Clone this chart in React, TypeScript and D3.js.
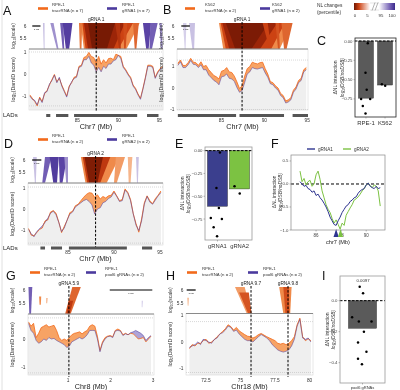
import * as d3 from 'd3';

const FONT = '"Liberation Sans", Arial, Helvetica, sans-serif';
const ORANGE = '#f26a1b';
const PURPLE = '#4b3a9e';
const NAVY = '#2f3590';
const GREEN = '#7cc242';
const HEAT_DOMAIN: [number, number] = [5.1, 6.11];

// ---- DamID tracks (log2 score per bin) ----
const aTracr = [-0.95, -1.1, -1.25, -1.45, -1.05, -1.25, -0.9, -0.75, -0.5, -0.25, -0.02, -0.35, -0.2, -0.5, -0.75, -1.0, -0.55, -0.4, -0.15, -0.1, 0.35, 0.4, 0.75, 0.8, 0.98, 0.8, 0.75, 0.5, 0.8, 0.45, 0.65, 0.5, 0.7, 0.72, 0.65, 0.9, 0.85, 0.8, 0.35, 0.2, 0.0, -0.15, -0.5, -0.65, -0.9, -1.1, -0.65, -0.15, 0.4, 0.4, 0.35, -0.15, 0.1, 0.25, 0.35];
const aGrna = [-1.0, -1.15, -1.2, -1.4, -1.1, -1.3, -0.85, -0.8, -0.45, -0.3, -0.05, -0.4, -0.15, -0.55, -0.8, -1.05, -0.6, -0.35, -0.2, -0.15, 0.3, 0.35, 0.65, 0.65, 0.8, 0.5, 0.4, 0.1, 0.3, 0.1, 0.35, 0.25, 0.45, 0.45, 0.6, 0.65, 0.85, 0.7, 0.3, 0.15, -0.05, -0.2, -0.55, -0.7, -0.95, -1.15, -0.7, -0.2, 0.35, 0.35, 0.3, -0.2, 0.05, 0.2, 0.3];
const bTracr = [1.15, 1.3, 1.05, 1.05, 1.18, 1.38, 1.2, 1.18, 1.05, 1.22, 1.0, 1.05, 0.85, 0.72, 0.58, 0.52, 0.42, 0.78, 0.82, 0.95, 0.75, 0.72, 0.55, 0.28, -0.02, 0.1, 0.55, 0.9, 1.0, 1.2, 1.15, 1.12, 1.18, 1.2, 0.9, 0.65, 0.3, 0.25, 0.1, 0.0, -0.25, -0.35, -0.6, -0.55, -0.45, -0.1, 0.05, 0.35, 0.45, 0.85, 0.95];
const bGrna = [1.05, 1.22, 0.95, 0.95, 1.08, 1.28, 1.1, 1.08, 0.95, 1.08, 0.85, 0.85, 0.6, 0.48, 0.35, 0.28, 0.15, 0.52, 0.55, 0.65, 0.45, 0.42, 0.3, 0.02, -0.2, -0.12, 0.25, 0.65, 0.75, 0.95, 0.9, 0.88, 0.92, 0.95, 0.7, 0.5, 0.2, 0.15, 0.0, -0.1, -0.35, -0.45, -0.7, -0.65, -0.55, -0.2, -0.05, 0.25, 0.35, 0.75, 0.85];
const dTracr = [-0.9, -1.22, -1.25, -1.1, -0.95, -0.88, -0.55, -0.5, -0.12, -0.05, -0.18, -0.6, -1.1, -0.8, -0.52, -0.15, -0.08, 0.18, 0.25, 0.42, 0.58, 0.72, 0.8, 0.78, 0.58, 0.7, 0.5, 0.62, 0.55, 0.65, 0.68, 0.88, 0.65, 0.42, 0.48, 0.98, 0.82, 0.48, -0.2, -0.68, -1.08, -0.45, 0.32, 0.65, 0.42, 0.28, 0.52, 0.68, 0.88];
const dGrna = [-0.95, -1.15, -1.3, -1.05, -0.92, -0.78, -0.62, -0.42, -0.18, -0.08, -0.25, -0.62, -1.05, -0.88, -0.5, -0.22, -0.12, 0.12, 0.22, 0.32, 0.42, 0.48, 0.38, 0.22, -0.22, 0.02, 0.08, 0.32, 0.38, 0.52, 0.6, 0.82, 0.62, 0.38, 0.42, 0.92, 0.78, 0.42, -0.22, -0.75, -1.0, -0.55, 0.25, 0.62, 0.35, 0.25, 0.45, 0.65, 0.8];
const gTracr = [0.6, 0.45, 0.55, 0.05, 0.2, 0.4, 0.45, 0.5, 0.42, 0.45, 0.48, 0.3, 0.05, -0.05, 0.0, -0.05, 0.05, 0.15, 0.2, 0.22, 0.25, 0.18, 0.25, 0.3, 0.45, 0.5, 0.45, 0.1, -0.4, -0.1, 0.05, 0.1, 0.12, 0.08, 0.3, 0.35, 0.3, 0.15, 0.2, 0.15, 0.2, 0.18, 0.1, 0.0, 0.02, 0.05, -0.1, 0.0, 0.1];
const gGrna = [0.55, 0.3, 0.2, -0.05, -0.15, -0.1, 0.0, -0.05, 0.05, 0.0, 0.02, -0.05, -0.1, -0.15, -0.2, -0.3, -0.25, -0.1, -0.05, 0.0, 0.05, 0.0, 0.05, 0.15, 0.3, 0.3, 0.3, 0.0, -0.45, -0.15, 0.0, 0.08, 0.1, 0.05, 0.28, 0.3, 0.28, 0.12, 0.18, 0.15, 0.22, 0.25, 0.3, 0.25, 0.2, 0.12, -0.05, 0.05, 0.12];
const hTracr = [-0.25, -0.1, -0.15, -0.05, -0.05, 0.05, 0.1, -0.05, 0.0, 0.08, 0.2, 0.3, 0.4, 0.5, 0.65, 0.58, 0.45, 0.55, 0.42, 0.35, 0.28, 0.22, 0.2, 0.15, 0.2, 0.28, 0.32, 0.26, 0.2, 0.15, 0.1, 0.05, -0.05, -0.08, -0.05, -0.1, -0.05, 0.05, 0.2, 0.65, 0.9, 0.2, 0.05, 0.12, 0.05];
const hGrna = [-0.2, -0.15, -0.1, 0.0, -0.1, 0.1, 0.05, 0.0, -0.05, 0.1, 0.15, 0.3, 0.35, 0.45, 0.6, 0.55, 0.4, 0.45, 0.3, 0.2, 0.1, 0.05, 0.05, 0.0, 0.1, 0.2, 0.28, 0.22, 0.15, 0.05, -0.1, -0.2, -0.3, -0.35, -0.38, -0.35, -0.3, -0.15, 0.1, 0.6, 0.85, 0.15, 0.1, 0.15, 0.0];

// ---- domainogram streaks: [x0 top, x1 top, x0 bottom, x1 bottom, percentile, scale top?, scale bottom?] ----
const aStreaks = [
  [80.8, 81.0, 80.9, 81.0, 96.5], [81.7, 82.1, 82.5, 82.7, 97.5], [82.9, 83.3, 83.2, 83.4, 98.5], [83.2, 84.4, 83.6, 84.0, 99.2],
  [93.0, 94.0, 93.4, 93.7, 99], [93.9, 94.8, 93.8, 94.1, 98.5], [95.0, 95.3, 95.2, 95.4, 97.5],
  [85.4, 92.6, 85.8, 91.0, 3.5], [85.6, 91.8, 86.0, 90.0, 1.5], [85.8, 90.8, 86.3, 89.4, 0.5], [86.3, 89.6, 86.8, 88.6, 0.1],
  [91.8, 92.5, 92.0, 92.2, 2.5], [85.2, 85.6, 85.3, 85.5, 3], [89.6, 90.2, 90.1, 90.3, 1.0], [90.6, 91.1, 90.7, 90.9, 1.8],
];
const bStreaks = [
  [80.5, 80.9, 80.7, 80.8, 96], [81.2, 81.9, 81.6, 81.8, 96.5],
  [84.7, 93.2, 85.2, 91.8, 3.5], [84.9, 92.4, 85.5, 90.8, 1.5], [85.1, 91.5, 85.9, 89.5, 0.5], [85.5, 90.5, 86.6, 88.5, 0.15],
  [92.0, 93.3, 92.3, 92.6, 2.5], [89.8, 90.4, 90.6, 90.8, 1.5], [91.3, 91.7, 91.6, 91.8, 2],
];
const dStreaks = [
  [81.2, 81.6, 81.4, 81.5, 96.5], [82.5, 83.2, 82.2, 82.5, 98.5], [83.0, 84.0, 83.4, 83.8, 99.3], [84.0, 84.9, 84.1, 84.4, 99],
  [84.6, 85.0, 84.8, 85.0, 97.5], [92.4, 92.7, 92.5, 92.6, 96.5],
  [86.4, 90.6, 86.9, 89.2, 3.5], [86.6, 89.6, 87.1, 88.5, 1.2], [86.8, 88.8, 87.3, 88.2, 0.2],
  [90.2, 91.2, 90.0, 90.3, 3.8], [91.5, 92.0, 91.6, 91.8, 4.2],
];
const gStreaks = [
  [0.07, 0.16, 0.09, 0.13, 98.5], [2.73, 2.76, 2.73, 2.75, 96, 5.6, 5.35],
  [1.1, 1.3, 0.93, 1.06, 2.5], [1.02, 1.12, 0.96, 1.04, 1.2, 5.6, 5.1],
  [0.32, 0.37, 0.33, 0.36, 3.5, 5.75, 5.45], [0.49, 0.52, 0.49, 0.51, 4, 5.7, 5.5],
];
const hStreaks = [
  [71.15, 71.25, 71.18, 71.22, 4, 5.7, 5.4],
  [74.6, 75.3, 75.45, 75.8, 3.8], [74.9, 75.6, 75.55, 75.8, 2.0, 5.9, 5.1],
  [77.8, 78.7, 78.1, 78.6, 3.5], [78.1, 78.5, 78.25, 78.55, 1.8],
];

// ---- LADs (Mb) ----
const aLads = [[81.2, 81.7], [82.4, 83.9], [84.6, 92.3], [93.5, 94.9]];
const bLads = [[79.9, 86.7], [87.1, 92.3], [93.3, 95.1]];
const dLads = [[82.0, 82.5], [83.15, 84.35], [85.1, 91.4], [93.05, 94.15]];

const chr7Ticks = [85, 90, 95];
const chr8Ticks = [1, 2, 3];
const chr18Ticks = [72.5, 75, 77.5, 80];

// ---- bar panels ----
const cCats = ['RPE-1', 'K562'];
const cBars = [-0.74, -0.57];
const cPoints = [[-0.03, -0.41, -0.63, -0.75, -0.75, -0.84, -0.94], [-0.56, -0.58]];
const cJitter = [[0.12, -0.03, 0.05, -0.32, 0.28, -0.21, -0.03], [-0.21, 0.01]];
const eCats = ['gRNA1', 'gRNA2'];
const eBars = [-0.61, -0.42];
const ePoints = [[-0.02, -0.41, -0.63, -0.74, -0.75, -0.84, -0.94], [-0.39, -0.47]];
const eJitter = [[0.12, -0.05, 0.07, -0.33, 0.22, -0.19, -0.02], [-0.25, 0.01]];
const iCats = ['pool6 gRNAs'];
const iBars = [-0.178];
const iPoints = [[0.09, 0.048, -0.107, -0.135, -0.135, -0.2, -0.27, -0.33, -0.375, -0.41]];
const iJitter = [[-0.1, 0.02, -0.37, -0.13, 0.32, 0.05, -0.16, 0.14, -0.16, -0.02]];

// ---- panel F ----
const fStart = 84.72;
const fStep = 0.16;
const fGrna1 = [0.05, 0.0, -0.05, -0.03, -0.1, -0.12, -0.18, -0.15, -0.25, -0.22, -0.3, -0.35, -0.42, -0.5, -0.6, -0.72, -0.8, -0.88, -0.9, -0.8, -0.72, -0.62, -0.55, -0.48, -0.45, -0.38, -0.35, -0.3, -0.28, -0.2, -0.15, -0.12, -0.1, -0.02, 0.02, -0.05, -0.08, -0.1, -0.05, -0.1, -0.08];
const fGrna2 = [0.28, 0.05, 0.12, -0.02, 0.05, 0.08, -0.05, 0.0, 0.2, 0.28, 0.1, -0.15, -0.3, -0.45, -0.55, -0.62, -0.75, -0.85, -0.78, -0.88, -0.98, -0.85, -0.9, -0.68, -0.6, -0.52, -0.45, -0.35, -0.32, -0.28, -0.22, -0.15, -0.1, -0.02, 0.02, -0.03, -0.08, -0.02, -0.05, -0.15, -0.48];
const fSites = [87.6, 87.95];

const orangeScale = d3.scaleLinear<string>().domain([0, 0.5, 1.5, 3.5, 5]).range(['#6e1703', '#9c2508', '#cc4213', '#ef8a4a', '#fde6d6']).clamp(true);
const purpleScale = d3.scaleLinear<string>().domain([95, 96.5, 98, 99, 100]).range(['#f1eff8', '#c9c1e3', '#8a79c2', '#5a43a5', '#3b2a8a']).clamp(true);
const heatColor = (p: number) => (p <= 5 ? orangeScale(p) : purpleScale(p));

interface Pt { p: number; t: number; g: number }

interface GenomeProps {
  id: string; left: number; right: number; domain: [number, number];
  heatTop: number; split: number; bottom: number; lineDomain: [number, number]; dotted: number[];
  start: number; step: number; tracr: number[]; grna: number[]; streaks: number[][];
  guides: [number, string][]; lads?: number[][]; ladY?: number; ladLabel?: boolean;
  xTicks: number[]; yTicks: number[]; tickY: number; title: string; titleY: number; bar: [number, number];
}

function Genome(c: GenomeProps) {
  const x = d3.scaleLinear().domain(c.domain).range([c.left, c.right]);
  const hy = d3.scaleLinear().domain(HEAT_DOMAIN).range([c.split, c.heatTop]);
  const y = d3.scaleLinear().domain(c.lineDomain).range([c.bottom, c.split]);
  const pts: Pt[] = c.tracr.map((t, i) => ({ p: c.start + i * c.step, t, g: c.grna[i] }));
  const gray = d3.area<Pt>().x(d => x(d.p)).y0(c.bottom).y1(d => y(Math.min(d.t, d.g)));
  const fillO = d3.area<Pt>().x(d => x(d.p)).y0(d => y(d.g)).y1(d => y(Math.max(d.t, d.g)));
  const fillP = d3.area<Pt>().x(d => x(d.p)).y0(d => y(d.t)).y1(d => y(Math.max(d.t, d.g)));
  const lineT = d3.line<Pt>().x(d => x(d.p)).y(d => y(d.t));
  const lineG = d3.line<Pt>().x(d => x(d.p)).y(d => y(d.g));
  const poly = d3.line();
  const w = c.right - c.left;
  const midH = (c.heatTop + c.split) / 2;
  const midL = (c.split + c.bottom) / 2;
  const tx = c.left - 14;
  return (
    <g>
      <defs>
        <clipPath id={`${c.id}h`}><rect x={c.left} y={c.heatTop} width={w} height={c.split - c.heatTop} /></clipPath>
        <clipPath id={`${c.id}l`}><rect x={c.left} y={c.split} width={w} height={c.bottom - c.split} /></clipPath>
      </defs>
      <g clipPath={`url(#${c.id}h)`}>
        {c.streaks.map((s, i) => {
          const yt = hy(s[5] ?? HEAT_DOMAIN[1]);
          const yb = hy(s[6] ?? HEAT_DOMAIN[0]);
          const d = poly([[x(s[0]), yt], [x(s[1]), yt], [x(s[3]), yb], [x(s[2]), yb]]) + 'Z';
          return <path key={i} d={d} fill={heatColor(s[4])} />;
        })}
      </g>
      <g clipPath={`url(#${c.id}l)`}>
        <path d={gray(pts) ?? ''} fill="#efefef" />
        <path d={fillO(pts) ?? ''} fill="#f7a365" />
        <path d={fillP(pts) ?? ''} fill="#ada3d8" />
        {c.dotted.map(v => (
          <line key={v} x1={c.left} x2={c.right} y1={y(v)} y2={y(v)} stroke="#bdbdbd" strokeWidth={0.6} strokeDasharray="1,1" />
        ))}
        <path d={lineT(pts) ?? ''} fill="none" stroke={ORANGE} strokeWidth={0.8} />
        <path d={lineG(pts) ?? ''} fill="none" stroke={PURPLE} strokeWidth={0.7} strokeOpacity={0.75} />
      </g>
      <rect x={c.left} y={c.split} width={w} height={c.bottom - c.split} fill="none" stroke="#d0d0d0" strokeWidth={0.5} />
      <line x1={c.left} x2={c.right} y1={c.split} y2={c.split} stroke="#7f7f7f" strokeWidth={0.9} />
      {[6, 5.5].map(v => (
        <text key={v} x={c.left - 2.5} y={hy(v) + 1.7} fontSize={4.8} textAnchor="end" fill="#333">{v}</text>
      ))}
      {c.yTicks.map(v => (
        <text key={v} x={c.left - 2.5} y={y(v) + 1.7} fontSize={4.8} textAnchor="end" fill="#333">{v}</text>
      ))}
      <text transform={`translate(${tx},${midH}) rotate(-90)`} fontSize={5} textAnchor="middle" fill="#333">
        log<tspan fontSize={3.6} dy={1.2}>10</tspan><tspan dy={-1.2}>(scale)</tspan>
      </text>
      <text transform={`translate(${tx},${midL}) rotate(-90)`} fontSize={5.4} textAnchor="middle" fill="#333">
        log<tspan fontSize={3.8} dy={1.2}>2</tspan><tspan dy={-1.2}>(DamID score)</tspan>
      </text>
      <line x1={x(c.bar[0])} x2={x(c.bar[0] + c.bar[1])} y1={c.heatTop + 3} y2={c.heatTop + 3} stroke="#000" strokeWidth={1.2} />
      <text x={x(c.bar[0] + c.bar[1] / 2)} y={c.heatTop + 7} fontSize={2.4} textAnchor="middle">1 Mb</text>
      {c.guides.map(([pos, label]) => (
        <g key={label}>
          <line x1={x(pos)} x2={x(pos)} y1={c.heatTop - 1} y2={c.bottom + 2} stroke="#000" strokeWidth={1} strokeDasharray="2.5,1.6" />
          <text x={x(pos)} y={c.heatTop - 1.8} fontSize={4.8} textAnchor="middle" fill="#222">{label}</text>
        </g>
      ))}
      {c.lads?.map((l, i) => (
        <rect key={i} x={x(l[0])} y={c.ladY} width={x(l[1]) - x(l[0])} height={3} fill="#555" />
      ))}
      {c.ladLabel && <text x={3} y={(c.ladY ?? 0) + 3} fontSize={6} fill="#222">LADs</text>}
      {c.xTicks.map(v => (
        <text key={v} x={x(v)} y={c.tickY} fontSize={4.8} textAnchor="middle" fill="#333">{v}</text>
      ))}
      <text x={(c.left + c.right) / 2} y={c.titleY} fontSize={7.2} textAnchor="middle" fill="#1a1a1a">{c.title}</text>
    </g>
  );
}

interface LegendItem { sx: number; tx: number; color: string; l1: string; l2: string }
function Legend({ y, items }: { y: number; items: LegendItem[] }) {
  return (
    <g>
      {items.map(it => (
        <g key={it.l2}>
          <line x1={it.sx} x2={it.sx + 10} y1={y + 2.5} y2={y + 2.5} stroke={it.color} strokeWidth={2.6} />
          <text x={it.tx} y={y} fontSize={4.3} fill="#333">{it.l1}</text>
          <text x={it.tx} y={y + 6} fontSize={4.3} fill="#333">{it.l2}</text>
        </g>
      ))}
    </g>
  );
}

interface BarProps {
  left: number; right: number; top: number; bottom: number; domain: [number, number];
  ticks: number[]; fmt: string; cats: string[]; values: number[]; colors: string[];
  points: number[][]; jitter: number[][]; pin: number; pout: number; frame: string;
  ylab: [number, number]; catSize: number; catY: number;
}
function BarPanel(b: BarProps) {
  const x = d3.scaleBand().domain(b.cats).range([b.left, b.right]).paddingInner(b.pin).paddingOuter(b.pout);
  const y = d3.scaleLinear().domain(b.domain).range([b.bottom, b.top]);
  const f = d3.format(b.fmt);
  const bw = x.bandwidth();
  const mid = (b.top + b.bottom) / 2;
  return (
    <g>
      {b.cats.map((c, i) => (
        <rect key={c} x={x(c)} y={y(0)} width={bw} height={y(b.values[i]) - y(0)} fill={b.colors[i]} stroke="#222" strokeWidth={0.4} />
      ))}
      <line x1={b.left} x2={b.right} y1={y(0)} y2={y(0)} stroke="#000" strokeWidth={1} strokeDasharray="2.5,1.5" />
      {b.cats.map((c, i) =>
        b.points[i].map((v, j) => (
          <circle key={`${c}${j}`} cx={(x(c) ?? 0) + bw / 2 + b.jitter[i][j] * bw} cy={y(v)} r={1.25} fill="#000" />
        ))
      )}
      <rect x={b.left} y={b.top} width={b.right - b.left} height={b.bottom - b.top} fill="none" stroke={b.frame} strokeWidth={0.8} />
      {b.ticks.map(v => (
        <g key={v}>
          <line x1={b.left - 1.5} x2={b.left} y1={y(v)} y2={y(v)} stroke="#555" strokeWidth={0.4} />
          <text x={b.left - 2.5} y={y(v) + 1.5} fontSize={4.3} textAnchor="end" fill="#444">{f(v)}</text>
        </g>
      ))}
      {b.cats.map(c => (
        <g key={c}>
          <line x1={(x(c) ?? 0) + bw / 2} x2={(x(c) ?? 0) + bw / 2} y1={b.bottom} y2={b.bottom + 1.5} stroke="#555" strokeWidth={0.4} />
          <text x={(x(c) ?? 0) + bw / 2} y={b.catY} fontSize={b.catSize} textAnchor="middle" fill="#333">{c}</text>
        </g>
      ))}
      <text transform={`translate(${b.ylab[0]},${mid}) rotate(-90)`} fontSize={5} textAnchor="middle" fill="#333">ΔNL interaction</text>
      <text transform={`translate(${b.ylab[1]},${mid}) rotate(-90)`} fontSize={5} textAnchor="middle" fill="#333" fontStyle="italic">
        log<tspan fontSize={3.6} dy={1.1}>2</tspan><tspan dy={-1.1}>(DSB/noDSB)</tspan>
      </text>
    </g>
  );
}

function PanelF() {
  const x = d3.scaleLinear().domain([84, 91.5]).range([291, 385]);
  const y = d3.scaleLinear().domain([-1.0, 0.63]).range([230, 155]);
  const line = d3.line<number>().x((_, i) => x(fStart + i * fStep)).y(d => y(d));
  const cols = [NAVY, GREEN];
  return (
    <g>
      <defs><clipPath id="fclip"><rect x={291} y={155} width={94} height={75} /></clipPath></defs>
      <g clipPath="url(#fclip)">
        <line x1={291} x2={385} y1={y(0)} y2={y(0)} stroke="#000" strokeWidth={1} strokeDasharray="3,2" />
        <path d={line(fGrna2) ?? ''} fill="none" stroke={GREEN} strokeWidth={1} />
        <path d={line(fGrna1) ?? ''} fill="none" stroke={NAVY} strokeWidth={1} />
      </g>
      <rect x={291} y={155} width={94} height={75} fill="none" stroke="#888" strokeWidth={0.7} />
      {[0.5, 0, -0.5, -1].map(v => (
        <g key={v}>
          <line x1={289.5} x2={291} y1={y(v)} y2={y(v)} stroke="#555" strokeWidth={0.4} />
          <text x={288.5} y={y(v) + 1.5} fontSize={4.3} textAnchor="end" fill="#444">{d3.format('.1f')(v)}</text>
        </g>
      ))}
      {[86, 88, 90].map(v => (
        <g key={v}>
          <line x1={x(v)} x2={x(v)} y1={230} y2={231.5} stroke="#555" strokeWidth={0.4} />
          <text x={x(v)} y={237} fontSize={4.5} textAnchor="middle" fill="#444">{v}</text>
        </g>
      ))}
      {fSites.map((s, i) => (
        <path key={s} d={`M${x(s) - 2.6},237 L${x(s) + 2.6},237 L${x(s)},229 Z`} fill={cols[i]} />
      ))}
      <text x={x(87.75)} y={244} fontSize={5.6} textAnchor="middle" fill="#222">chr7 (Mb)</text>
      <text transform="translate(276,192) rotate(-90)" fontSize={4.8} textAnchor="middle" fill="#333">ΔNL interaction</text>
      <text transform="translate(281.5,192) rotate(-90)" fontSize={4.8} textAnchor="middle" fill="#333" fontStyle="italic">
        log<tspan fontSize={3.5} dy={1.1}>2</tspan><tspan dy={-1.1}>(DSB/noDSB)</tspan>
      </text>
      <line x1={307} x2={315} y1={149} y2={149} stroke={NAVY} strokeWidth={1.4} />
      <text x={318} y={150.5} fontSize={4.6} fill="#333">gRNA1</text>
      <line x1={343} x2={351} y1={149} y2={149} stroke={GREEN} strokeWidth={1.4} />
      <text x={354} y={150.5} fontSize={4.6} fill="#333">gRNA2</text>
    </g>
  );
}

function ColorKey() {
  return (
    <g>
      <defs>
        <linearGradient id="gO"><stop offset="0" stopColor={heatColor(0)} /><stop offset="0.3" stopColor={heatColor(1.5)} /><stop offset="1" stopColor="#ffffff" /></linearGradient>
        <linearGradient id="gP"><stop offset="0" stopColor="#ffffff" /><stop offset="0.7" stopColor={heatColor(98.5)} /><stop offset="1" stopColor={heatColor(100)} /></linearGradient>
      </defs>
      <text x={317} y={7} fontSize={4.8} fill="#333">NL changes</text>
      <text x={317} y={13.5} fontSize={4.8} fill="#333">(percentile)</text>
      <rect x={354} y={3} width={16} height={7} fill="url(#gO)" />
      <rect x={379} y={3} width={16} height={7} fill="url(#gP)" />
      <line x1={370} x2={379} y1={3} y2={3} stroke="#bbb" strokeWidth={0.4} />
      <line x1={370} x2={379} y1={10} y2={10} stroke="#bbb" strokeWidth={0.4} />
      <line x1={372} x2={375} y1={10.5} y2={2.5} stroke="#666" strokeWidth={0.5} />
      <line x1={375} x2={378} y1={10.5} y2={2.5} stroke="#666" strokeWidth={0.5} />
      {[[355, '0'], [367.5, '5'], [381, '95'], [392, '100']].map(([px, t]) => (
        <text key={t as string} x={px as number} y={16.5} fontSize={4.3} textAnchor="middle" fill="#333">{t}</text>
      ))}
    </g>
  );
}

const letters: [string, number, number][] = [
  ['A', 3, 15], ['B', 163, 14], ['C', 317, 45], ['D', 4, 148], ['E', 175, 148],
  ['F', 271, 148], ['G', 6, 280], ['H', 166, 280], ['I', 322, 280],
];

export default function App() {
  return (
    <svg width={400} height={390} style={{ position: 'absolute', left: 0, top: 0, display: 'block', willChange: 'transform' }} fontFamily={FONT}>
      <rect width={400} height={390} fill="#fff" />
      <line x1={2} x2={2} y1={0} y2={390} stroke="#d8d8d8" strokeWidth={0.8} />
      {letters.map(([t, x, y]) => (
        <text key={t} x={x} y={y} fontSize={12.5} fill="#111">{t}</text>
      ))}
      <Legend y={6} items={[
        { sx: 38, tx: 52, color: ORANGE, l1: 'RPE-1', l2: 'tracrRNA (n = 7)' },
        { sx: 107, tx: 122, color: PURPLE, l1: 'RPE-1', l2: 'gRNA1 (n = 7)' },
      ]} />
      <Legend y={6} items={[
        { sx: 185, tx: 205, color: ORANGE, l1: 'K562', l2: 'tracrRNA (n = 2)' },
        { sx: 260, tx: 272, color: PURPLE, l1: 'K562', l2: 'gRNA1 (n = 2)' },
      ]} />
      <Legend y={137} items={[
        { sx: 38, tx: 52, color: ORANGE, l1: 'RPE-1', l2: 'tracrRNA (n = 2)' },
        { sx: 107, tx: 122, color: PURPLE, l1: 'RPE-1', l2: 'gRNA2 (n = 2)' },
      ]} />
      <Legend y={270} items={[
        { sx: 30, tx: 44, color: ORANGE, l1: 'RPE-1', l2: 'tracrRNA (n = 2)' },
        { sx: 86, tx: 105, color: PURPLE, l1: 'RPE-1', l2: 'pool6 gRNAs (n = 2)' },
      ]} />
      <Legend y={270} items={[
        { sx: 187, tx: 202, color: ORANGE, l1: 'RPE-1', l2: 'tracrRNA (n = 2)' },
        { sx: 248, tx: 263, color: PURPLE, l1: 'RPE-1', l2: 'pool6 gRNAs (n = 2)' },
      ]} />
      <ColorKey />
      <Genome id="a" left={29} right={163} domain={[79.1, 95.45]} heatTop={23} split={49} bottom={110}
        lineDomain={[-1.636, 1.136]} dotted={[1.0, -1.45]} start={79.2} step={0.3} tracr={aTracr} grna={aGrna}
        streaks={aStreaks} guides={[[87.3, 'gRNA 1']]} lads={aLads} ladY={114} ladLabel
        xTicks={chr7Ticks} yTicks={[1, 0, -1]} tickY={122} title="Chr7 (Mb)" titleY={129} bar={[79.5, 1]} />
      <Genome id="b" left={177} right={308} domain={[79.8, 95.1]} heatTop={23} split={49} bottom={110}
        lineDomain={[-1.023, 1.814]} dotted={[1.3, -1.0]} start={79.9} step={0.3} tracr={bTracr} grna={bGrna}
        streaks={bStreaks} guides={[[87.4, 'gRNA 1']]} lads={bLads} ladY={114}
        xTicks={chr7Ticks} yTicks={[1, 0, -1]} tickY={122} title="Chr7 (Mb)" titleY={129} bar={[80.3, 1]} />
      <Genome id="d" left={28} right={163} domain={[80.65, 95.33]} heatTop={157} split={183} bottom={245}
        lineDomain={[-1.69, 1.262]} dotted={[1.07, -1.6]} start={80.7} step={0.3} tracr={dTracr} grna={dGrna}
        streaks={dStreaks} guides={[[88.0, 'gRNA 2']]} lads={dLads} ladY={246.5} ladLabel
        xTicks={chr7Ticks} yTicks={[1, 0, -1]} tickY={254} title="Chr7 (Mb)" titleY={261} bar={[81.1, 1]} />
      <Genome id="g" left={28} right={154} domain={[0.059, 3.02]} heatTop={287} split={314} bottom={375}
        lineDomain={[-1.263, 0.877]} dotted={[0.74, -1.19]} start={0.07} step={0.06} tracr={gTracr} grna={gGrna}
        streaks={gStreaks} guides={[[1.02, 'gRNA 5.9']]}
        xTicks={chr8Ticks} yTicks={[0, -1]} tickY={382} title="Chr8 (Mb)" titleY={389} bar={[1.98, 1]} />
      <Genome id="h" left={186} right={313} domain={[71.05, 80.25]} heatTop={287} split={313.5} bottom={375}
        lineDomain={[-1.245, 1.075]} dotted={[0.77, -1.15]} start={71.3} step={0.2} tracr={hTracr} grna={hGrna}
        streaks={hStreaks} guides={[[75.76, 'gRNA 9.7'], [78.44, 'gRNA 9.8']]}
        xTicks={chr18Ticks} yTicks={[1, 0, -1]} tickY={382} title="Chr18 (Mb)" titleY={389} bar={[71.1, 0.65]} />
      <BarPanel left={355} right={396} top={38} bottom={117} domain={[-0.984, 0.039]} ticks={[0, -0.25, -0.5, -0.75]}
        fmt=".2f" cats={cCats} values={cBars} colors={['#5a5a5a', '#5a5a5a']} points={cPoints} jitter={cJitter}
        pin={0.21} pout={0.18} frame="#222" ylab={[337, 344]} catSize={6} catY={124.5} />
      <BarPanel left={205} right={252} top={147} bottom={240} domain={[-0.98, 0.04]} ticks={[0, -0.25, -0.5, -0.75]}
        fmt=".2f" cats={eCats} values={eBars} colors={['#3b3f8e', GREEN]} points={ePoints} jitter={eJitter}
        pin={0.09} pout={0.11} frame="#999" ylab={[184, 189.5]} catSize={5.8} catY={248} />
      <BarPanel left={340} right={385} top={276} bottom={383} domain={[-0.531, 0.159]} ticks={[0, -0.2, -0.4]}
        fmt=".1f" cats={iCats} values={iBars} colors={['#5a5a5a']} points={iPoints} jitter={iJitter}
        pin={0} pout={0.3} frame="#999" ylab={[329, 334.5]} catSize={4} catY={389} />
      <text x={363} y={281.5} fontSize={4.3} textAnchor="middle" fill="#333">0.0097</text>
      <PanelF />
    </svg>
  );
}
